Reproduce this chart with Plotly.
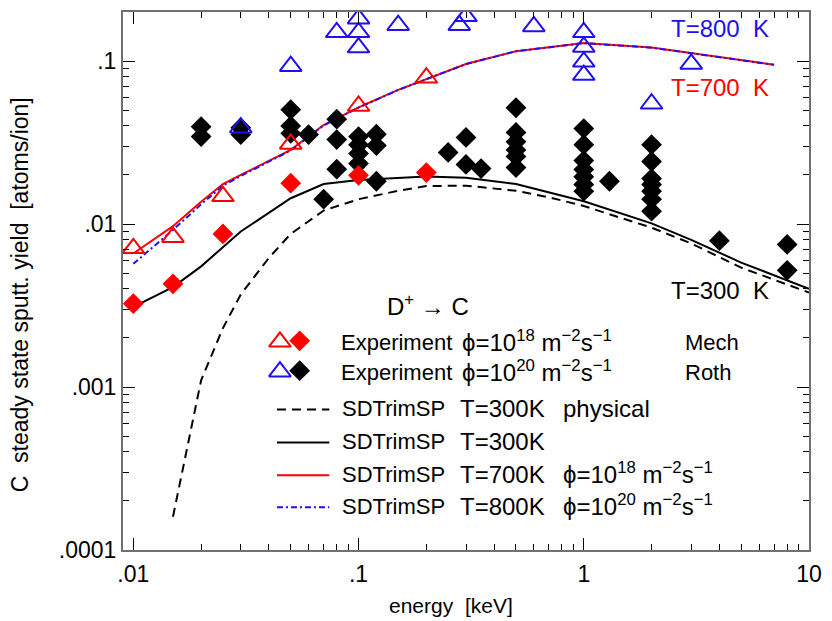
import plotly.graph_objects as go

# ---------------- data ----------------
# Experiment, flux 1e18 (Mech) - red
mech_tri_E = [0.01, 0.015, 0.025, 0.05, 0.1, 0.2]
mech_tri_Y = [0.0071, 0.0083, 0.0148, 0.031, 0.053, 0.079]
mech_dia_E = [0.01, 0.015, 0.025, 0.05, 0.1, 0.2]
mech_dia_Y = [0.00325, 0.0043, 0.0087, 0.0178, 0.0199, 0.0207]

# Experiment, flux 1e20 (Roth) - blue triangles / black diamonds
roth_tri_E = [0.03, 0.05, 0.08, 0.1, 0.1, 0.1, 0.15, 0.28, 0.3, 0.6, 1, 1, 1, 1, 2, 3]
roth_tri_Y = [0.039, 0.093, 0.150, 0.182, 0.150, 0.121, 0.166, 0.166, 0.188, 0.163,
              0.150, 0.122, 0.099, 0.082, 0.0547, 0.096]
roth_dia_E = [0.02, 0.02, 0.03, 0.03, 0.05, 0.05, 0.05, 0.06, 0.07, 0.08, 0.08, 0.08,
              0.1, 0.1, 0.1, 0.1, 0.12, 0.12, 0.12, 0.25, 0.3, 0.3, 0.35,
              0.5, 0.5, 0.5, 0.5, 0.5, 0.5,
              1, 1, 1, 1, 1, 1, 1, 1.3,
              2, 2, 2, 2, 2, 2, 2, 4, 8, 8]
roth_dia_Y = [0.0396, 0.0344, 0.039, 0.0354, 0.0503, 0.040, 0.036, 0.0354, 0.0142, 0.044, 0.033, 0.0217,
              0.0344, 0.0307, 0.0271, 0.0235, 0.0356, 0.0303, 0.0183, 0.0275, 0.034, 0.0232, 0.0219,
              0.0517, 0.0365, 0.032, 0.0285, 0.026, 0.0222,
              0.0385, 0.0307, 0.0245, 0.0216, 0.0195, 0.0175, 0.0159, 0.0183,
              0.0307, 0.0242, 0.019, 0.0175, 0.0159, 0.0142, 0.012, 0.0079, 0.0075, 0.0052]

# SDTrimSP simulations
phys_E = [0.015, 0.02, 0.025, 0.03, 0.04, 0.05, 0.07, 0.1, 0.15, 0.2, 0.3, 0.5, 0.7, 1, 2, 3, 5, 10]
phys_Y = [0.00016, 0.0011, 0.0023, 0.0037, 0.0062, 0.0087, 0.0121, 0.0142, 0.0160, 0.0171, 0.0172,
          0.0160, 0.0146, 0.0129, 0.0095, 0.0076, 0.0054, 0.0038]
t300_E = [0.01, 0.015, 0.02, 0.03, 0.05, 0.07, 0.1, 0.2, 0.3, 0.5, 1, 2, 3, 5, 10]
t300_Y = [0.0031, 0.0041, 0.0055, 0.0090, 0.0144, 0.0176, 0.0186, 0.0196, 0.0192, 0.0176,
          0.0138, 0.0101, 0.0080, 0.0058, 0.0040]
t700_E = [0.01, 0.015, 0.02, 0.025, 0.03, 0.05, 0.07, 0.1, 0.15, 0.2, 0.3, 0.5, 1, 2, 3, 5, 7]
t700_Y = [0.0066, 0.0097, 0.0137, 0.0176, 0.0200, 0.0285, 0.0405, 0.052, 0.0666, 0.0777, 0.096,
          0.115, 0.129, 0.121, 0.112, 0.101, 0.095]
t800_E = [0.01, 0.015, 0.02, 0.025, 0.03, 0.05, 0.07, 0.1, 0.15, 0.2, 0.3, 0.5, 1, 2, 3, 5, 7]
t800_Y = [0.0057, 0.0092, 0.0132, 0.0172, 0.0197, 0.0283, 0.0403, 0.0518, 0.0664, 0.0775, 0.0958,
          0.1148, 0.1288, 0.1208, 0.1118, 0.1008, 0.0948]

x_tickvals = [0.01, 0.1, 1, 10]
x_ticktext = [".01", ".1", "1", "10"]
y_tickvals = [0.0001, 0.001, 0.01, 0.1]
y_ticktext = [".0001", ".001", ".01", ".1"]

# ---------------- layout geometry ----------------
W, H = 832, 621
L, R, T, B = 123, 14, 10, 71
PW, PH = W - L - R, H - T - B
def px(x):
    return (x - L) / PW
def py(y):
    return 1 - (y - T) / PH

RED = "#ff0000"
BLUE = "#2010f0"
FONT = "Liberation Sans"

minor_x = [m * 10 ** e for e in (-3, -2, -1, 0) for m in range(2, 10)]
minor_x = [v for v in minor_x if 0.009 <= v <= 10]
minor_y = [m * 10 ** e for e in (-4, -3, -2, -1) for m in range(2, 10)]
minor_y = [v for v in minor_y if v <= 0.2]

TRI = dict(size=19, line_w=2)
DIA = 16
DASH = "9px,6px"
DASHDOT = "6px,3px,2px,3px"

fig = go.Figure()
fig.add_trace(go.Scatter(x=t700_E, y=t700_Y, mode="lines", line=dict(color=RED, width=2)))
fig.add_trace(go.Scatter(x=t800_E, y=t800_Y, mode="lines", line=dict(color=BLUE, width=2, dash=DASHDOT)))
fig.add_trace(go.Scatter(x=phys_E, y=phys_Y, mode="lines", line=dict(color="black", width=2, dash=DASH)))
fig.add_trace(go.Scatter(x=t300_E, y=t300_Y, mode="lines", line=dict(color="black", width=2)))
fig.add_trace(go.Scatter(x=roth_dia_E, y=roth_dia_Y, mode="markers",
                         marker=dict(symbol="diamond", size=DIA, color="black", line=dict(width=0))))
fig.add_trace(go.Scatter(x=mech_dia_E, y=mech_dia_Y, mode="markers",
                         marker=dict(symbol="diamond", size=DIA, color=RED, line=dict(width=0))))
fig.add_trace(go.Scatter(x=roth_tri_E, y=roth_tri_Y, mode="markers",
                         marker=dict(symbol="triangle-up-open", size=TRI["size"], color=BLUE,
                                     line=dict(width=TRI["line_w"], color=BLUE))))
fig.add_trace(go.Scatter(x=mech_tri_E, y=mech_tri_Y, mode="markers",
                         marker=dict(symbol="triangle-up-open", size=TRI["size"], color=RED,
                                     line=dict(width=TRI["line_w"], color=RED))))

# ---------------- legend keys (overlay axes spanning the plot area) ----------------
KEY_TRI_X, KEY_DIA_X = 282, 302
ROW_Y = {"d": 306, "mech": 343, "roth": 373, "phys": 409, "t300": 442, "t700": 475, "t800": 507}
fig.add_trace(go.Scatter(x=[px(KEY_TRI_X), px(KEY_TRI_X)], y=[py(ROW_Y["mech"] - 2), py(ROW_Y["roth"] - 2)],
                         xaxis="x2", yaxis="y2", mode="markers",
                         marker=dict(symbol="triangle-up-open", size=TRI["size"], color=[RED, BLUE],
                                     line=dict(width=TRI["line_w"], color=[RED, BLUE]))))
fig.add_trace(go.Scatter(x=[px(KEY_DIA_X), px(KEY_DIA_X)], y=[py(ROW_Y["mech"] - 3), py(ROW_Y["roth"] - 3)],
                         xaxis="x2", yaxis="y2", mode="markers",
                         marker=dict(symbol="diamond", size=DIA, color=[RED, "black"], line=dict(width=0))))
LINE_X0, LINE_X1 = 279, 332
for key, col, dash in [("phys", "black", DASH), ("t300", "black", "solid"),
                       ("t700", RED, "solid"), ("t800", BLUE, DASHDOT)]:
    fig.add_trace(go.Scatter(x=[px(LINE_X0), px(LINE_X1)], y=[py(ROW_Y[key])] * 2,
                             xaxis="x2", yaxis="y2", mode="lines",
                             line=dict(color=col, width=2, dash=dash)))

ann = []
def text(x, y, s, color="black", size=24, xanchor="left"):
    # y is the centre of the capital letters; anchor at the bottom of the text box
    yb = y + 0.57 * size + 1
    ann.append(dict(x=px(x), y=py(yb), xref="paper", yref="paper", text=s, showarrow=False,
                    xanchor=xanchor, yanchor="bottom", font=dict(family=FONT, size=size, color=color)))

PHI18 = "ϕ=10<sup>18</sup> m<sup>−2</sup>s<sup>−1</sup>"
PHI20 = "ϕ=10<sup>20</sup> m<sup>−2</sup>s<sup>−1</sup>"
text(388, ROW_Y["d"], "D<sup>+</sup> → C")
for key, phi, who in [("mech", PHI18, "Mech"), ("roth", PHI20, "Roth")]:
    text(342, ROW_Y[key], "Experiment", size=22)
    text(464, ROW_Y[key], phi)
    text(690, ROW_Y[key], who, size=22)
for key, temp, tail in [("phys", "T=300K", "physical"), ("t300", "T=300K", ""),
                        ("t700", "T=700K", PHI18), ("t800", "T=800K", PHI20)]:
    text(343, ROW_Y[key], "SDTrimSP", size=22)
    text(462, ROW_Y[key], temp)
    if tail:
        text(567, ROW_Y[key], tail)
text(780, 27, "T=800  K", color=BLUE, xanchor="right")
text(780, 87, "T=700  K", color=RED, xanchor="right")
text(780, 290, "T=300  K", xanchor="right")
# axis titles
ann.append(dict(x=px(455), y=py(606), xref="paper", yref="paper", text="energy  [keV]", showarrow=False,
                xanchor="center", yanchor="middle", font=dict(family=FONT, size=21, color="black")))
ann.append(dict(x=px(19), y=py(294), xref="paper", yref="paper", text="C  steady state sputt. yield  [atoms/ion]",
                showarrow=False, textangle=-90, xanchor="center", yanchor="middle",
                font=dict(family=FONT, size=23, color="black")))

axis_common = dict(showgrid=False, zeroline=False, showline=True, linecolor="#707070", linewidth=2,
                   mirror="ticks", ticks="inside", tickcolor="black", tickwidth=1, ticklen=12,
                   tickfont=dict(family=FONT, size=23, color="black"))
fig.update_layout(
    width=W, height=H, margin=dict(l=L, r=R, t=T, b=B),
    paper_bgcolor="white", plot_bgcolor="white", showlegend=False,
    xaxis=dict(type="log", range=[-2.0458, 1], tickmode="array", tickvals=x_tickvals, ticktext=x_ticktext,
               minor=dict(tickmode="array", tickvals=minor_x, ticks="inside", ticklen=6, tickcolor="black"),
               ticklabelstandoff=2, **axis_common),
    yaxis=dict(type="log", range=[-4, -0.699], tickmode="array", tickvals=y_tickvals, ticktext=y_ticktext,
               minor=dict(tickmode="array", tickvals=minor_y, ticks="inside", ticklen=6, tickcolor="black"),
               **axis_common),
    xaxis2=dict(domain=[0, 1], range=[0, 1], visible=False, overlaying="x"),
    yaxis2=dict(domain=[0, 1], range=[0, 1], visible=False, overlaying="y"),
    annotations=ann,
)
fig.write_html("out.html")
